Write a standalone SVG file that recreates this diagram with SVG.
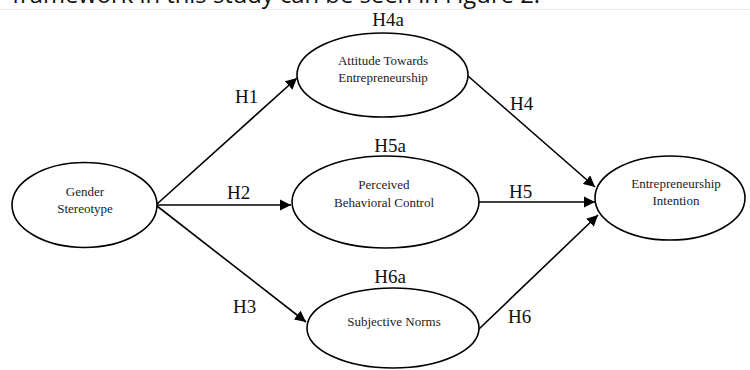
<svg xmlns="http://www.w3.org/2000/svg" width="750" height="370" viewBox="0 0 750 370">
<style>
.node ellipse{fill:#fff;stroke:#000;stroke-width:1.6}
.nt{font-family:"Liberation Serif","Times New Roman",serif;font-size:13px;fill:#222;text-anchor:middle}
.lb{font-family:"Liberation Serif","Times New Roman",serif;font-size:19px;fill:#111}
.lbm{text-anchor:middle}
#edges line{stroke:#000;stroke-width:1.6;marker-end:url(#ah)}
.top{font-family:"Open Sans","Liberation Sans",sans-serif;font-size:24px;fill:#111}
</style>
<defs>
<marker id="ah" viewBox="0 0 10 10" refX="10" refY="5" markerWidth="7" markerHeight="7" orient="auto" markerUnits="strokeWidth">
<path d="M0,0 L10,5 L0,10 z" fill="#000"/>
</marker>
</defs>
<rect width="750" height="370" fill="#fff"/>
<text class="top" x="12" y="3" textLength="528" lengthAdjust="spacingAndGlyphs">framework in this study can be seen in Figure 2.</text>
<line x1="0" y1="9.5" x2="750" y2="9.5" stroke="#eee" stroke-width="1"/>
<g id="edges">
<line id="e-h1" x1="157" y1="204" x2="297" y2="78"/>
<line id="e-h2" x1="157" y1="205" x2="291" y2="205"/>
<line id="e-h3" x1="157" y1="206" x2="306" y2="322"/>
<line id="e-h4" x1="468" y1="76" x2="595" y2="187"/>
<line id="e-h5" x1="479" y1="202" x2="595" y2="202"/>
<line id="e-h6" x1="479" y1="329" x2="598" y2="215"/>
</g>
<g id="edge-labels">
<text class="lb" x="235" y="103">H1</text>
<text class="lb" x="227" y="199">H2</text>
<text class="lb" x="233" y="313">H3</text>
<text class="lb" x="510" y="110">H4</text>
<text class="lb" x="509" y="198">H5</text>
<text class="lb" x="508" y="323">H6</text>
</g>
<g id="gender" class="node">
<ellipse cx="84.5" cy="205" rx="72.5" ry="42.5"/>
<text class="nt" x="85" y="196">Gender</text>
<text class="nt" x="85" y="213">Stereotype</text>
</g>
<g id="attitude" class="node">
<ellipse cx="382.5" cy="75" rx="85.5" ry="42"/>
<text class="lb lbm" x="388" y="26">H4a</text>
<text class="nt" x="383" y="65">Attitude Towards</text>
<text class="nt" x="383" y="82">Entrepreneurship</text>
</g>
<g id="pbc" class="node">
<ellipse cx="385.5" cy="202" rx="93.5" ry="46"/>
<text class="lb lbm" x="390" y="152">H5a</text>
<text class="nt" x="384" y="189">Perceived</text>
<text class="nt" x="384" y="207">Behavioral Control</text>
</g>
<g id="norms" class="node">
<ellipse cx="393" cy="328" rx="86" ry="40"/>
<text class="lb lbm" x="390" y="283">H6a</text>
<text class="nt" x="394" y="326">Subjective Norms</text>
</g>
<g id="intention" class="node">
<ellipse cx="670" cy="198" rx="75" ry="42"/>
<text class="nt" x="676" y="188">Entrepreneurship</text>
<text class="nt" x="676" y="205">Intention</text>
</g>
</svg>
